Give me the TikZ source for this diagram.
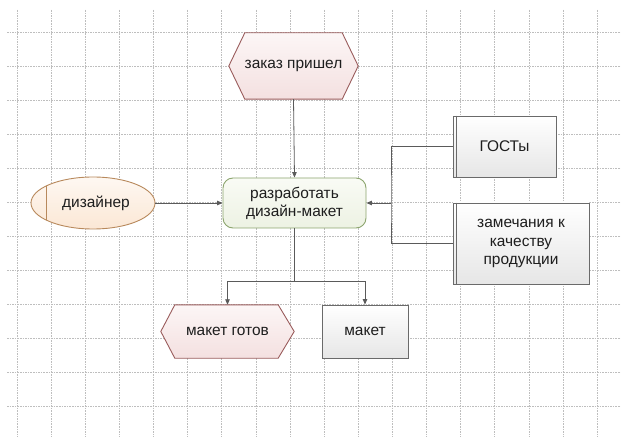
\documentclass[tikz,border=0pt]{standalone}
\usepackage{fontspec}
\setmainfont{Liberation Sans}
\usetikzlibrary{arrows.meta,shapes.geometric,calc}
\definecolor{gridC}{HTML}{BEBEBE}
\definecolor{lineC}{HTML}{5A5A5A}
\definecolor{textC}{HTML}{1E1E1E}
\definecolor{hexT}{HTML}{FCF6F6}
\definecolor{hexB}{HTML}{F4E0E0}
\definecolor{hexD}{HTML}{9A5C5C}
\definecolor{procT}{HTML}{F9FBF5}
\definecolor{procB}{HTML}{EDF2E3}
\definecolor{procD}{HTML}{8CA56E}
\definecolor{ellT}{HTML}{FEF8F2}
\definecolor{ellB}{HTML}{FBE7D5}
\definecolor{ellD}{HTML}{B8895C}
\definecolor{docT}{HTML}{FFFFFF}
\definecolor{docB}{HTML}{E6E6E6}
\definecolor{docD}{HTML}{6A6A6A}
\pgfdeclarelayer{gridlayer}
\pgfdeclarelayer{shapelayer}
\pgfsetlayers{gridlayer,shapelayer,main}
\begin{document}
\begin{tikzpicture}[x=1bp,y=-1bp,
  every node/.style={font=\fontsize{15.5}{18}\selectfont, text=textC, inner sep=0pt, align=center},
  gridline/.style={draw=gridC, line width=0.5bp, dash pattern=on 1.6bp off 1bp},
  hexnode/.style={rectangle, draw=none},
  hexshape/.style={top color=hexT, bottom color=hexB, draw=hexD, line width=0.9bp},
  procnode/.style={rectangle, rounded corners=10bp, top color=procT, bottom color=procB, draw=procD, line width=0.9bp},
  ellnode/.style={ellipse, top color=ellT, bottom color=ellB, draw=ellD, line width=0.9bp},
  docnode/.style={rectangle, top color=docT, bottom color=docB, draw=docD, line width=0.9bp},
  conn/.style={draw=lineC, line width=0.8bp},
  arr/.style={conn, -{Triangle[length=5.5bp,width=4.5bp]}}
]
\useasboundingbox (0,0) rectangle (621,437);
\begin{pgfonlayer}{gridlayer}
\fill[white] (0,0) rectangle (621,437);
\foreach \i in {0,...,17} \draw[gridline] ({17+34.12*\i},10) -- ({17+34.12*\i},437);
\foreach \j in {0,...,11} \draw[gridline] (7,{32.5+34*\j}) -- (621,{32.5+34*\j});
\end{pgfonlayer}

% nodes
\node[hexnode, minimum width=129bp, minimum height=66bp] (z) at (293.5,66) {заказ пришел};
\node[procnode, minimum width=143bp, minimum height=50bp] (r) at (294.5,203) {разработать\\дизайн-макет};
\node[ellnode, minimum width=124bp, minimum height=52bp] (d) at (93,203) {\hspace*{6bp}дизайнер};
\node[docnode, minimum width=103bp, minimum height=61bp] (g) at (504.5,146.5) {ГОСТы};
\node[docnode, minimum width=136bp, minimum height=81bp, font=\fontsize{15.5}{18.5}\selectfont] (q) at (521,243.5) {замечания к\\качеству\\продукции};
\node[hexnode, minimum width=133bp, minimum height=53bp] (mg) at (227.5,331.5) {макет готов};
\node[docnode, minimum width=86bp, minimum height=53bp] (mk) at (365,331.5) {макет};

\begin{pgfonlayer}{shapelayer}
\shade[hexshape] (z.west) -- ([xshift=16bp]z.north west) -- ([xshift=-16bp]z.north east) -- (z.east) -- ([xshift=-16bp]z.south east) -- ([xshift=16bp]z.south west) -- cycle;
\shade[hexshape] (mg.west) -- ([xshift=14bp]mg.north west) -- ([xshift=-16bp]mg.north east) -- (mg.east) -- ([xshift=-16bp]mg.south east) -- ([xshift=14bp]mg.south west) -- cycle;
\end{pgfonlayer}

% decorations of nodes
\draw[ellD, line width=0.9bp] ($(d.center)+(-47,-17)$) -- ($(d.center)+(-47,17)$);
\draw[docD, line width=0.9bp] ([xshift=4bp]g.north west) -- ([xshift=4bp]g.south west);
\draw[docD, line width=0.9bp] ([xshift=4bp]q.north west) -- ([xshift=4bp]q.south west);

% connectors
\coordinate (J) at (391,203);
\coordinate (S) at (294.5,281);
\draw[arr] (z.south) -- (r.north);
\draw[arr] (d.east) -- (r.west);
\draw[conn] (g.west) -| (J) |- (q.west);
\draw[arr] (J) -- (r.east);
\draw[conn] (r.south) -- (S);
\draw[arr] (S) -| (mg.north);
\draw[arr] (S) -| (mk.north);
\end{tikzpicture}
\end{document}
